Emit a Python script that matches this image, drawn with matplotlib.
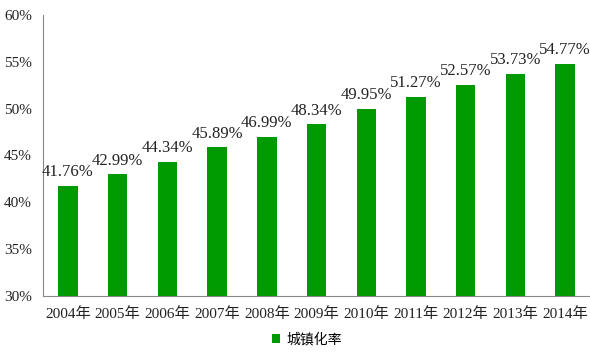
import numpy as np
import matplotlib
matplotlib.use('Agg')
import matplotlib.pyplot as plt
from matplotlib.ticker import FuncFormatter

plt.rcParams['font.family'] = ['Liberation Serif', 'Noto Sans CJK SC']

years = ['2004年', '2005年', '2006年', '2007年', '2008年', '2009年',
         '2010年', '2011年', '2012年', '2013年', '2014年']
rates = [41.76, 42.99, 44.34, 45.89, 46.99, 48.34,
         49.95, 51.27, 52.57, 53.73, 54.77]
series_name = '城镇化率'

green = '#009900'

fig = plt.figure(figsize=(5.9, 3.55), dpi=100)
ax = fig.add_axes([0.073, 0.166, 0.927, 0.792])

x = np.arange(len(years))
bars = ax.bar(x, rates, width=0.39, color=green, label=series_name, zorder=2)

# value labels above bars
for xi, v in zip(x, rates):
    ax.text(xi, v + 0.6, '%.2f%%' % v, ha='center', va='bottom',
            fontsize=12, color='#222222')

ax.set_ylim(30, 60)
ax.set_xlim(-0.5, len(years) - 0.5)
ax.set_yticks(np.arange(30, 61, 5))
ax.yaxis.set_major_formatter(FuncFormatter(lambda v, p: '%d%%' % v))
ax.set_xticks(x)
ax.set_xticklabels(years)

ax.tick_params(axis='both', length=0, labelsize=11, colors='#222222')
ax.tick_params(axis='x', pad=8)
ax.tick_params(axis='y', pad=8)

for s in ['top', 'right']:
    ax.spines[s].set_visible(False)
ax.spines['left'].set_color('#888888')
ax.spines['bottom'].set_color('#888888')

leg = fig.legend(handles=[bars], labels=[series_name], loc='lower center',
                 bbox_to_anchor=(0.52, -0.01), frameon=False,
                 handlelength=0.6, handleheight=0.6, handletextpad=0.4,
                 prop={'family': ['Noto Sans CJK SC'], 'size': 10})

fig.savefig('out.png', dpi=100)
